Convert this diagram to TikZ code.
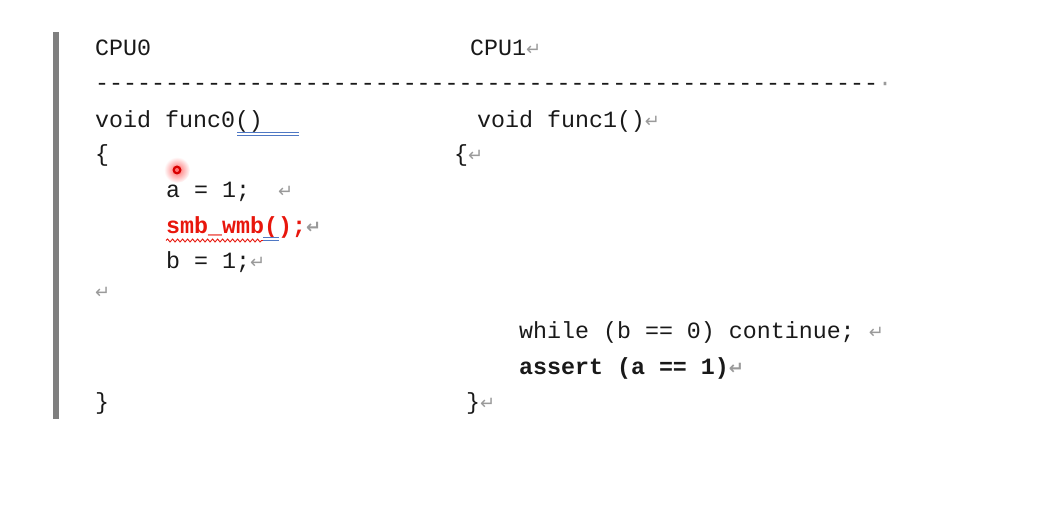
\documentclass[tikz,border=0pt]{standalone}
\usepackage{fontspec}
\usetikzlibrary{decorations.pathmorphing}
\newfontfamily\monof{Liberation Mono}
\newfontfamily\symf{DejaVu Sans}
\definecolor{retgray}{HTML}{9A9A9A}
\definecolor{barcol}{HTML}{7F7F7F}
\definecolor{wmbred}{HTML}{E8160C}
\definecolor{ulblue}{HTML}{4F78C4}
\newcommand\ret{{\symf\fontsize{18pt}{18pt}\selectfont\color{retgray}\char"21B5}}
\newcommand\hy{-\kern0pt}
\tikzset{
  code/.style={anchor=base west, inner sep=0pt, font=\monof\fontsize{23.3pt}{27pt}\selectfont, text=black!90},
  boldcode/.style={code, font=\monof\bfseries\fontsize{23.3pt}{27pt}\selectfont},
  dblue/.style={draw=ulblue, line width=1pt},
}
\begin{document}
\begin{tikzpicture}[x=1pt,y=-1pt]
\useasboundingbox (0,0) rectangle (1057,518);
% left bar
\fill[barcol] (53,32) rectangle (59,419);
% headings
\node[code] (cpu0) at (95,56) {CPU0};
\node[code] (cpu1) at (470,56) {CPU1\ret};
\node[code] (sep) at (95,91) {\hy\hy\hy\hy\hy\hy\hy\hy\hy\hy\hy\hy\hy\hy\hy\hy\hy\hy\hy\hy\hy\hy\hy\hy\hy\hy\hy\hy\hy\hy\hy\hy\hy\hy\hy\hy\hy\hy\hy\hy\hy\hy\hy\hy\hy\hy\hy\hy\hy\hy\hy\hy\hy\hy\hy\hy{\color{retgray}\char"00B7}};
% function heads
\node[code] (f0) at (95,128) {void func0()};
\node[code] (f1) at (477,128) {void func1()\ret};
\node[code] (lb0) at (95,162) {\{};
\node[code] (lb1) at (454,162) {\{\ret};
% body of func0
\node[code] (a1) at (166,198) {a = 1;\ \ \ret};
\node[boldcode, text=wmbred] (wmb) at (166,234) {smb\_wmb();\ret};
\node[code] (b1) at (166,269) {b = 1;\ret};
\node[code] (emptyl) at (95,299) {\ret};
% body of func1
\node[code] (wh) at (519,339) {while (b == 0) continue;\ \ret};
\node[boldcode] (as) at (519,374) {assert (a == 1)\ret};
\node[code] (rb0) at (95,409) {\}};
\node[code] (rb1) at (466,409) {\}\ret};
% underlines
\draw[dblue] (237,132.5) -- (299,132.5);
\draw[dblue] (237,135.5) -- (299,135.5);
\draw[wmbred, line width=0.9pt, decorate, decoration={snake, segment length=5pt, amplitude=1.5pt}] (166,240.5) -- (264,240.5);
\draw[dblue] (263,238) -- (279,238);
\draw[dblue] (263,241) -- (279,241);
% laser pointer dot
\shade[inner color=red!60, outer color=white] (177,170) circle (13);
\fill[red!85!black] (177,170) circle (4.5);
\fill[red!55] (177,170) circle (2);
\end{tikzpicture}
\end{document}
